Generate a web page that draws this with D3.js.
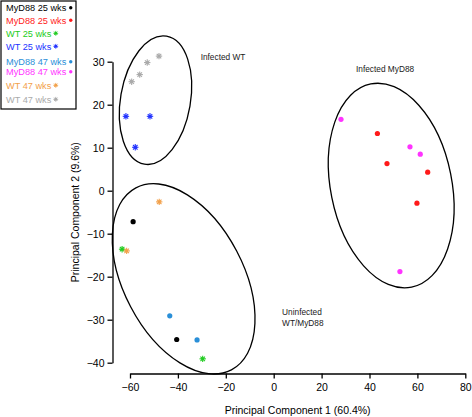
<!DOCTYPE html>
<html><head><meta charset="utf-8">
<script src="https://cdn.jsdelivr.net/npm/d3@7"></script>
<style>
body{margin:0;background:#fff;}
svg{display:block;font-family:"Liberation Sans",Arial,Helvetica,sans-serif;}
</style></head>
<body><svg id="chart" width="472" height="417"></svg>
<script>
// ---- data ----
const groups = ["MyD88 25 wks","MyD88 25 wks","WT 25 wks","WT 25 wks","MyD88 47 wks","MyD88 47 wks","WT 47 wks","WT 47 wks"];
const groupColors = ["#000000","#ff1a1a","#22cc22","#2233ff","#2a8fd8","#ff33ff","#f2a04a","#aaaaaa"];
const groupShapes = ["dot","dot","star","star","dot","dot","star","star"];
const pc1 = [
  [-58.7, -40.5],
  [43.3, 47.3, 64.3, 59.8],
  [-63.3, -29.65],
  [-61.7, -51.65, -57.8],
  [-43.4, -32.0],
  [28.1, 56.9, 61.2, 52.7],
  [-47.8, -61.4],
  [-59.3, -55.95, -52.8, -47.9]
];
const pc2 = [
  [-7.2, -34.6],
  [13.3, 6.3, 4.3, -2.9],
  [-13.6, -39.1],
  [17.3, 17.3, 10.1],
  [-29.1, -34.7],
  [16.6, 10.2, 8.5, -18.8],
  [-2.6, -14.0],
  [25.35, 27.0, 29.8, 31.3]
];
const xTicks = [-60,-40,-20,0,20,40,60,80];
const yTicks = [-40,-30,-20,-10,0,10,20,30];
const xTitle = "Principal Component 1 (60.4%)";
const yTitle = "Principal Component 2 (9.6%)";
// cluster ellipses: centre (data), semi-axes (data units), rotation (deg)
const clusterNames = [["Infected WT"],["Uninfected","WT/MyD88"],["Infected MyD88"]];
const clusterCx = [-49.35, -37.6, 49.06];
const clusterCy = [21.05, -20.5, 1.2];
const clusterRx = [14.6, 25.0, 25.3];
const clusterRy = [15.1, 23.9, 24.1];
const clusterRot = [9.8, -27.7, -11.35];
const labelX = [-30.5, 3.5, 46.5];
const labelY = [30.4, -28.8, 27.6];
const labelAnchor = ["start","start","middle"];

// ---- drawing ----
const svg = d3.select("#chart");
const x = d3.scaleLinear().domain([-60,80]).range([130,465.3]);
const y = d3.scaleLinear().domain([-40,30]).range([362.7,61.7]);

const xAxis = svg.append("g").attr("transform","translate(0,373.5)")
  .call(d3.axisBottom(x).tickValues(xTicks).tickSizeInner(5).tickSizeOuter(0).tickPadding(5));
const yAxis = svg.append("g").attr("transform","translate(112.5,0)")
  .call(d3.axisLeft(y).tickValues(yTicks).tickSizeInner(5).tickSizeOuter(0).tickPadding(3));
[xAxis,yAxis].forEach(a=>{
  a.selectAll("path,line").attr("stroke","#000").attr("stroke-width",1.3);
  a.selectAll("text").attr("font-size","10.5px").attr("fill","#000")
   .attr("font-family","'Liberation Sans',Arial,sans-serif");
});
svg.append("text").attr("x",(x(-60)+x(80))/2).attr("y",414).attr("text-anchor","middle")
  .attr("font-size","10.5px").text(xTitle);
svg.append("text").attr("transform",`translate(78.5,${(y(-40)+y(30))/2}) rotate(-90)`)
  .attr("text-anchor","middle").attr("font-size","10.5px").text(yTitle);

// ellipses
clusterCx.forEach((cx,i)=>{
  const px = x(cx), py = y(clusterCy[i]);
  svg.append("ellipse")
    .attr("transform",`translate(${px},${py}) rotate(${clusterRot[i]})`)
    .attr("rx", x(cx+clusterRx[i])-px)
    .attr("ry", py - y(clusterCy[i]+clusterRy[i]))
    .attr("fill","none").attr("stroke","#000").attr("stroke-width",1.3);
  const t = svg.append("text").attr("x",x(labelX[i])).attr("y",y(labelY[i]))
    .attr("text-anchor",labelAnchor[i])
    .attr("font-size","8.3px").attr("fill","#1a1a1a");
  clusterNames[i].forEach((s,k)=>t.append("tspan").attr("x",x(labelX[i])).attr("dy",k?11.5:0).text(s));
});

function marker(g, shape, color, cx, cy){
  if(shape==="dot"){
    g.append("circle").attr("cx",cx).attr("cy",cy).attr("r",2.6).attr("fill",color);
  } else {
    const r = 3.2;
    for(let k=0;k<4;k++){
      const a = k*Math.PI/4;
      g.append("line").attr("x1",cx-r*Math.cos(a)).attr("y1",cy-r*Math.sin(a))
        .attr("x2",cx+r*Math.cos(a)).attr("y2",cy+r*Math.sin(a))
        .attr("stroke",color).attr("stroke-width",1.1);
    }
    g.append("circle").attr("cx",cx).attr("cy",cy).attr("r",1.6).attr("fill",color);
  }
}

const pts = svg.append("g");
groups.forEach((gname,i)=>{
  pc1[i].forEach((v,j)=>marker(pts, groupShapes[i], groupColors[i], x(v), y(pc2[i][j])));
});

// legend
const legendRowY = [11, 23.5, 36.5, 49.5, 65, 75, 88.5, 102.5];
const leg = svg.append("g");
leg.append("rect").attr("x",1).attr("y",1).attr("width",75).attr("height",108)
  .attr("fill","#fff").attr("stroke","#000").attr("stroke-width",1.2);
groups.forEach((gname,i)=>{
  const t = leg.append("text").attr("x",6).attr("y",legendRowY[i])
    .attr("font-size","9.2px").attr("fill",groupColors[i]).text(gname);
  const w = t.node().getComputedTextLength();
  const mg = leg.append("g");
  if(groupShapes[i]==="dot"){
    mg.append("circle").attr("cx",6+w+4.5).attr("cy",legendRowY[i]-3.2).attr("r",1.7).attr("fill",groupColors[i]);
  } else {
    const r = 2.4, cx = 6+w+4.5, cy = legendRowY[i]-3.2;
    for(let k=0;k<4;k++){
      const a = k*Math.PI/4;
      mg.append("line").attr("x1",cx-r*Math.cos(a)).attr("y1",cy-r*Math.sin(a))
        .attr("x2",cx+r*Math.cos(a)).attr("y2",cy+r*Math.sin(a))
        .attr("stroke",groupColors[i]).attr("stroke-width",0.9);
    }
    mg.append("circle").attr("cx",cx).attr("cy",cy).attr("r",1.2).attr("fill",groupColors[i]);
  }
});
</script></body></html>
